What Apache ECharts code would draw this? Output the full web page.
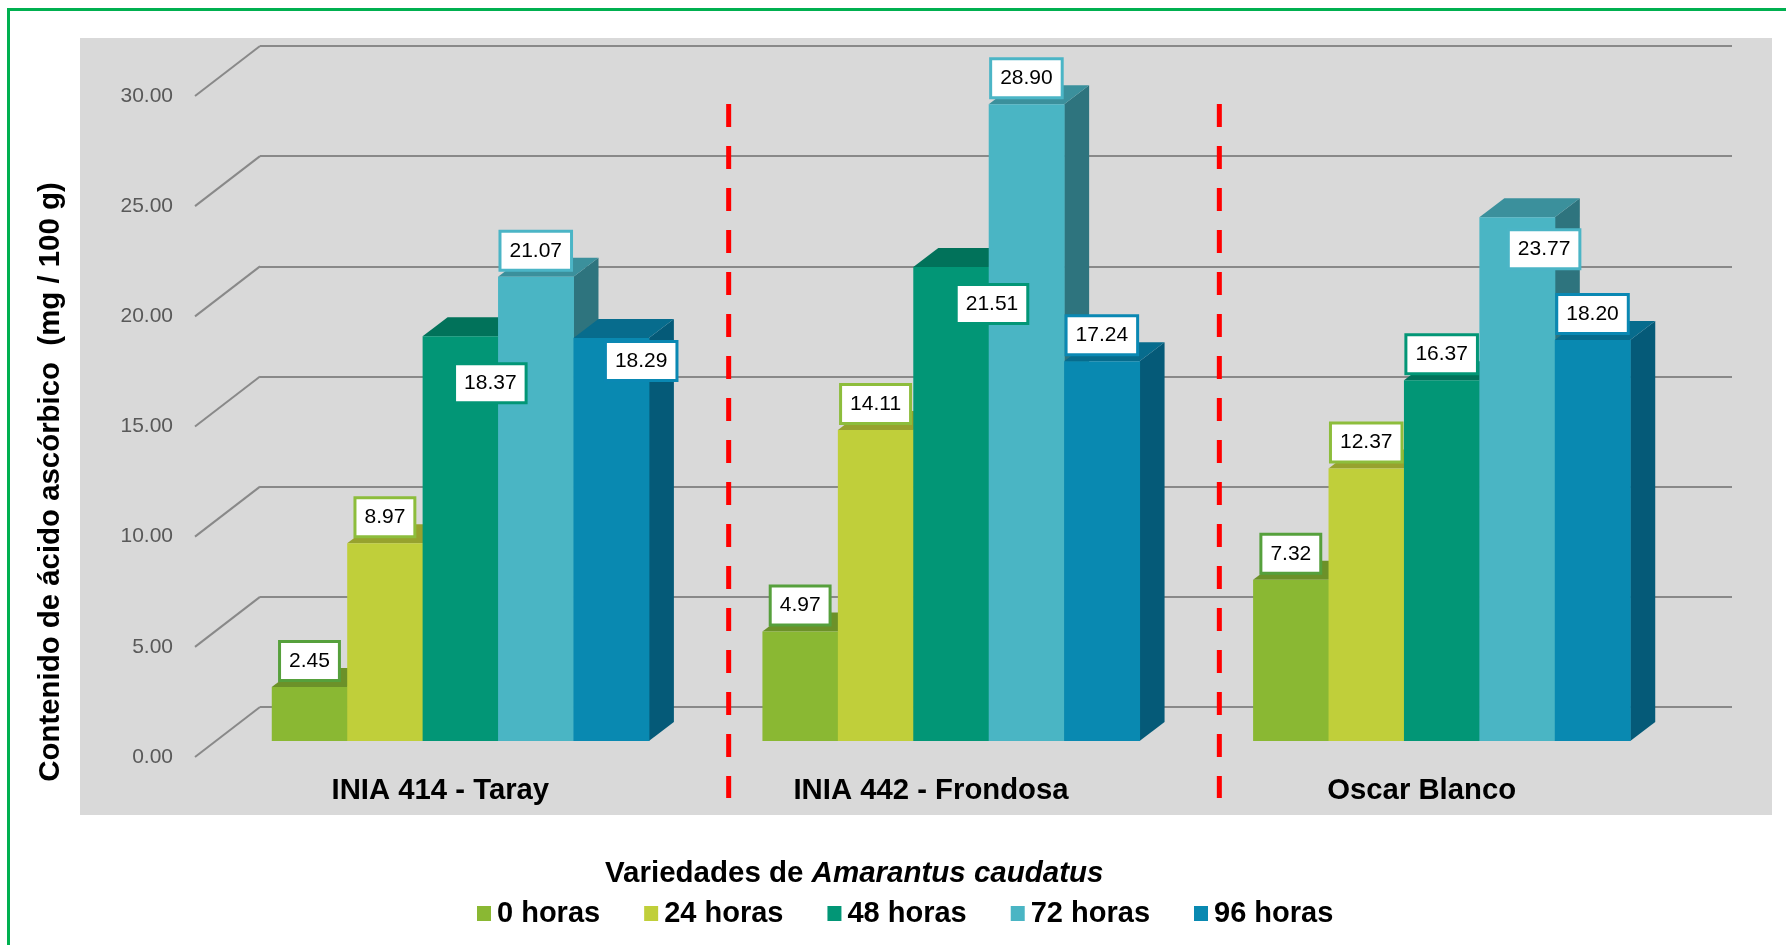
<!DOCTYPE html>
<html><head><meta charset="utf-8">
<script src="https://cdn.jsdelivr.net/npm/echarts@6/dist/echarts.min.js"></script>
<style>html,body{margin:0;padding:0;background:#fff}#c{width:1786px;height:945px}</style>
</head><body><div id="c"></div>
<script>
// ---------------- DATA ----------------
const categories = ['INIA 414 - Taray', 'INIA 442 - Frondosa', 'Oscar Blanco'];
const seriesNames = ['0 horas', '24 horas', '48 horas', '72 horas', '96 horas'];
const h0  = [2.45, 4.97, 7.32];
const h24 = [8.97, 14.11, 12.37];
const h48 = [18.37, 21.51, 16.37];
const h72 = [21.07, 28.90, 23.77];
const h96 = [18.29, 17.24, 18.20];
const yTicks = [0, 5, 10, 15, 20, 25, 30];
const yTickLabels = ['0.00', '5.00', '10.00', '15.00', '20.00', '25.00', '30.00'];
const yTitle = 'Contenido de ácido ascórbico  (mg / 100 g)';
const xTitleA = 'Variedades de ';
const xTitleB = 'Amarantus caudatus';

// ---------------- STYLE ----------------
const FONT = '"Liberation Sans", Arial, sans-serif';
const FRONT = ['#8AB833', '#C0CF3A', '#029676', '#4AB5C4', '#0989B1'];
const TOP   = ['#6C9129', '#97A22E', '#01725A', '#3B909C', '#076C8D'];
const SIDE  = ['#5E7F24', '#858F28', '#015E4A', '#2E747E', '#055A78'];
const LBORDER = ['#56A03C', '#8DBD3C', '#029676', '#4BB5C6', '#0A88B3'];
// manual label displacements (series-category): [dx, dy]
const NUDGE = { '2-0': [30, 73], '2-1': [41, 63], '3-2': [27, 58], '4-0': [30, 49] };
const GROUP_FRAC = 0.7686;
const BX = 25, BY = 19;          // bar depth
const GX = 65, GY = 50;          // floor depth
const GRID_COLOR = '#898989';

const allSeries = [h0, h24, h48, h72, h96];

function barRender(s) {
  return function (params, api) {
    const i = api.value(0), v = api.value(1);
    const base = api.coord([i, 0]), top = api.coord([i, v]);
    const band = api.size([1, 0])[0];
    const gw = band * GROUP_FRAC, bw = gw / 5;
    const x0 = base[0] - gw / 2 + s * bw, x1 = x0 + bw;
    const yb = base[1], yt = top[1];
    return { type: 'group', children: [
      { type: 'polygon', shape: { points: [[x1, yt], [x1 + BX, yt - BY], [x1 + BX, yb - BY], [x1, yb]] }, style: { fill: SIDE[s] } },
      { type: 'polygon', shape: { points: [[x0, yt], [x0 + BX, yt - BY], [x1 + BX, yt - BY], [x1, yt]] }, style: { fill: TOP[s] } },
      { type: 'rect', shape: { x: x0, y: yt, width: bw + 0.5, height: yb - yt }, style: { fill: FRONT[s] } }
    ]};
  };
}
function labelRender(s) {
  return function (params, api) {
    const i = api.value(0), v = api.value(1);
    const base = api.coord([i, 0]), top = api.coord([i, v]);
    const band = api.size([1, 0])[0];
    const gw = band * GROUP_FRAC, bw = gw / 5;
    const cx = base[0] - gw / 2 + s * bw + bw / 2;
    const n = NUDGE[s + '-' + i] || [0, 0];
    return { type: 'text', x: cx + n[0], y: top[1] - 26 + n[1], style: {
      text: v.toFixed(2), fill: '#000', fontSize: 21, fontFamily: FONT, lineHeight: 22,
      align: 'center', verticalAlign: 'middle', backgroundColor: '#fff',
      borderColor: LBORDER[s], borderWidth: 3, padding: [7, 8, 7, 8]
    }};
  };
}

const series = [];
allSeries.forEach((vals, s) => {
  series.push({ type: 'custom', name: seriesNames[s], xAxisIndex: 0, yAxisIndex: 0, z: 3 + s,
    itemStyle: { color: FRONT[s] }, clip: false, renderItem: barRender(s),
    encode: { x: 0, y: 1 }, data: vals.map((v, i) => [i, v]) });
});
allSeries.forEach((vals, s) => {
  series.push({ type: 'custom', name: seriesNames[s], xAxisIndex: 0, yAxisIndex: 0, z: 20,
    itemStyle: { color: FRONT[s] }, clip: false, renderItem: labelRender(s), silent: true,
    encode: { x: 0, y: 1 }, data: vals.map((v, i) => [i, v]) });
});
// floor diagonals from front axis to back wall
series.push({ type: 'custom', xAxisIndex: 1, yAxisIndex: 1, z: 1, clip: false, silent: true,
  encode: { x: 0, y: 1 }, data: yTicks.map(v => [0, v]),
  renderItem: (params, api) => {
    const y = api.coord([0, api.value(1)])[1], x = params.coordSys.x;
    return { type: 'line', shape: { x1: x, y1: y, x2: x + GX, y2: y - GY }, style: { stroke: GRID_COLOR, lineWidth: 2 } };
  } });
// red dashed separators between varieties
series.push({ type: 'custom', xAxisIndex: 0, yAxisIndex: 0, z: 2, clip: false, silent: true,
  encode: { x: 0, y: 1 }, data: categories.slice(0, -1).map((c, i) => [i, 0]),
  renderItem: (params, api) => {
    const band = api.size([1, 0])[0];
    const x = api.coord([api.value(0), 0])[0] + band / 2 + 23;
    const cs = params.coordSys;
    return { type: 'line', shape: { x1: x, y1: cs.y + 24, x2: x, y2: cs.y + cs.height + 57 },
      style: { stroke: '#FF0000', lineWidth: 5, lineDash: [23, 19] } };
  } });

const yCommon = { type: 'value', min: 0, max: 30, interval: 5 };
const option = {
  animation: false,
  backgroundColor: '#fff',
  grid: [
    { left: 215, top: 80, width: 1472, height: 661 },
    { left: 195, top: 96, width: 1472, height: 661 },
    { left: 260, top: 46, width: 1472, height: 661 }
  ],
  xAxis: [
    { type: 'category', gridIndex: 0, data: categories, show: false },
    { type: 'category', gridIndex: 1, data: categories, axisLine: { show: false }, axisTick: { show: false },
      axisLabel: { margin: 19, fontSize: 29.3, fontWeight: 'bold', color: '#000', fontFamily: FONT } },
    { type: 'category', gridIndex: 2, data: categories, show: false }
  ],
  yAxis: [
    Object.assign({ gridIndex: 0, show: false }, yCommon),
    Object.assign({ gridIndex: 1, axisLine: { show: false }, axisTick: { show: false }, splitLine: { show: false },
      axisLabel: { margin: 22, fontSize: 21, color: '#595959', fontFamily: FONT,
        formatter: v => yTickLabels[yTicks.indexOf(v)] } }, yCommon),
    Object.assign({ gridIndex: 2, axisLine: { show: false }, axisTick: { show: false }, axisLabel: { show: false },
      splitLine: { show: true, lineStyle: { color: GRID_COLOR, width: 2 } } }, yCommon)
  ],
  title: {
    text: '{a|' + xTitleA + '}{b|' + xTitleB + '}', left: 605, top: 859, padding: 0,
    textStyle: { rich: {
      a: { fontSize: 29.5, fontWeight: 'bold', color: '#000', fontFamily: FONT },
      b: { fontSize: 29.5, fontWeight: 'bold', fontStyle: 'italic', color: '#000', fontFamily: FONT } } }
  },
  legend: {
    data: seriesNames, left: 472, top: 894, icon: 'rect', itemWidth: 14, itemHeight: 15, itemGap: 44,
    textStyle: { fontSize: 29, fontWeight: 'bold', color: '#000', fontFamily: FONT, padding: [0, 0, 0, 1] }
  },
  graphic: [
    { type: 'rect', z: -100, silent: true, shape: { x: 80, y: 38, width: 1692, height: 777 }, style: { fill: '#D9D9D9' } },
    { type: 'rect', z: -100, silent: true, shape: { x: 8.5, y: 9.5, width: 1800, height: 960 }, style: { fill: 'none', stroke: '#00B050', lineWidth: 3 } },
    { type: 'text', x: 51, y: 482, rotation: Math.PI / 2, silent: true,
      style: { text: yTitle, fontSize: 29.4, fontWeight: 'bold', fontFamily: FONT, fill: '#000', align: 'center', verticalAlign: 'middle' } }
  ],
  series: series
};
const chart = echarts.init(document.getElementById('c'), null, { renderer: 'canvas' });
chart.setOption(option);
</script></body></html>
